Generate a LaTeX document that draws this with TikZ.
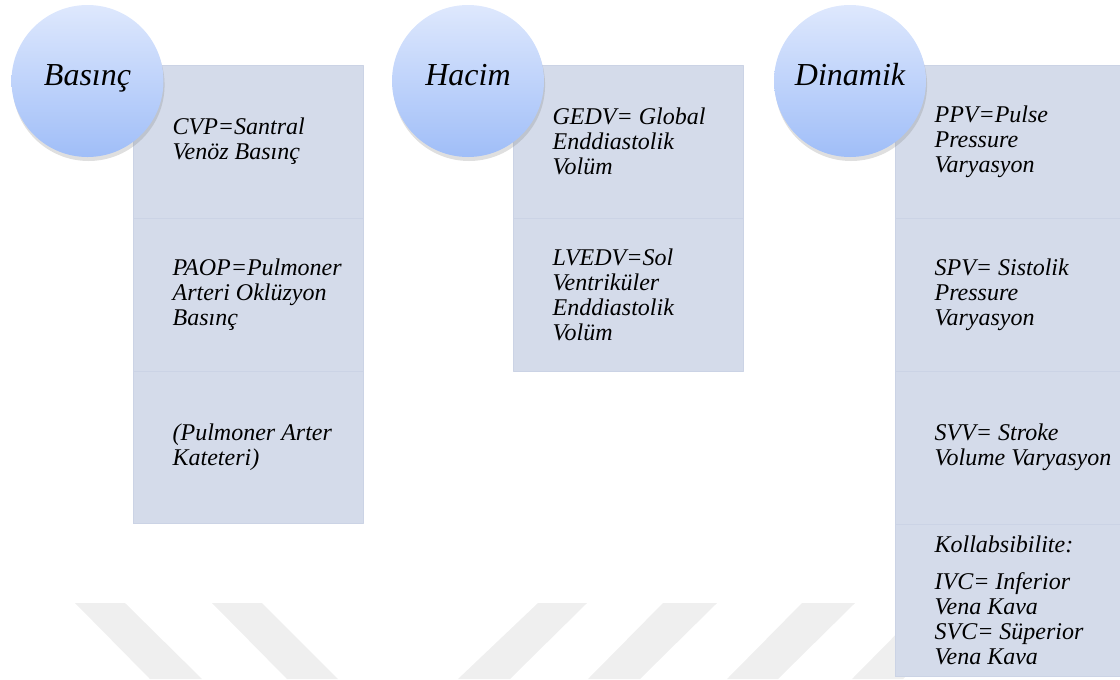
\documentclass[tikz,border=0pt]{standalone}
\usepackage{fontspec}
\setmainfont{Liberation Serif}
\usetikzlibrary{positioning,shadows}

\definecolor{secfill}{HTML}{D4DBEA}
\definecolor{secline}{HTML}{CBD3E5}
\definecolor{bubbletop}{HTML}{DEE8FD}
\definecolor{bubblebot}{HTML}{A0BEF8}
\definecolor{markgray}{HTML}{EFEFEF}

\tikzset{
  section/.style={rectangle, anchor=north west, inner sep=0pt, fill=secfill,
    draw=secline, line width=0.5pt, minimum width=172.5pt, minimum height=114.5pt},
  entry/.style={anchor=west, align=left, inner sep=0pt,
    font=\itshape\fontsize{18}{18.75}\selectfont},
  bubble/.style={circle, inner sep=0pt, minimum size=114pt, shading=axis,
    top color=bubbletop, bottom color=bubblebot,
    drop shadow={shadow xshift=0.8pt, shadow yshift=-3pt, opacity=0.25}},
  bubbletext/.style={anchor=base, inner sep=0pt,
    font=\itshape\fontsize{24}{28}\selectfont},
  band/.style={fill=markgray}
}

\begin{document}
\begin{tikzpicture}[x=0.75pt,y=-0.75pt,line join=round]

\useasboundingbox (0,0) rectangle (1120,679);
\clip (0,0) rectangle (1120,679);

% watermark
\fill[band] (75,603) -- (125,603) -- (202,679) -- (150,679) -- cycle;
\fill[band] (212,603) -- (262,603) -- (338,679) -- (287,679) -- cycle;
\fill[band] (538,603) -- (587,603) -- (510,679) -- (458,679) -- cycle;
\fill[band] (663,603) -- (717,603) -- (640,679) -- (588,679) -- cycle;
\fill[band] (802,603) -- (855,603) -- (778,679) -- (727,679) -- cycle;
\fill[band] (927,603) -- (980,603) -- (903,679) -- (852,679) -- cycle;

% Basinc
\node[section] (bas1) at (133,65) {};
\node[section] (bas2) at (133,218) {};
\node[section] (bas3) at (133,370.5) {};
\node[entry] (bas1t) at ([xshift=29.5pt]bas1.west) {CVP=Santral\\Venöz Basınç};
\node[entry] (bas2t) at ([xshift=29.5pt]bas2.west) {PAOP=Pulmoner\\Arteri Oklüzyon\\Basınç};
\node[entry] (bas3t) at ([xshift=29.5pt]bas3.west) {(Pulmoner Arter\\Kateteri)};

% Hacim
\node[section] (hac1) at (513,65) {};
\node[section] (hac2) at (513,218) {};
\node[entry] (hac1t) at ([xshift=29.5pt]hac1.west) {GEDV= Global\\Enddiastolik\\Volüm};
\node[entry] (hac2t) at ([xshift=29.5pt]hac2.west) {LVEDV=Sol\\Ventriküler\\Enddiastolik\\Volüm};

% Dinamik
\node[section] (din1) at (895,65) {};
\node[section] (din2) at (895,218) {};
\node[section] (din3) at (895,371) {};
\node[section] (din4) at (895,523.5) {};
\node[entry] (din1t) at ([xshift=29.5pt]din1.west) {PPV=Pulse\\Pressure\\Varyasyon};
\node[entry] (din2t) at ([xshift=29.5pt]din2.west) {SPV= Sistolik\\Pressure\\Varyasyon};
\node[entry] (din3t) at ([xshift=29.5pt]din3.west) {SVV= Stroke\\Volume Varyasyon};
\node[entry] (din4t) at ([xshift=29.5pt]din4.west) {Kollabsibilite:\\[9pt]IVC= Inferior\\Vena Kava\\SVC= Süperior\\Vena Kava};

% circles
\node[bubble] (basinc) at (87.5,81) {};
\node[bubble] (hacim) at (468,81) {};
\node[bubble] (dinamik) at (850,81) {};
\node[bubbletext] (basinct) at ([yshift=-3.4pt]basinc.center) {Basınç};
\node[bubbletext] (hacimt) at ([yshift=-3.4pt]hacim.center) {Hacim};
\node[bubbletext] (dinamikt) at ([yshift=-3.4pt]dinamik.center) {Dinamik};

\end{tikzpicture}
\end{document}
